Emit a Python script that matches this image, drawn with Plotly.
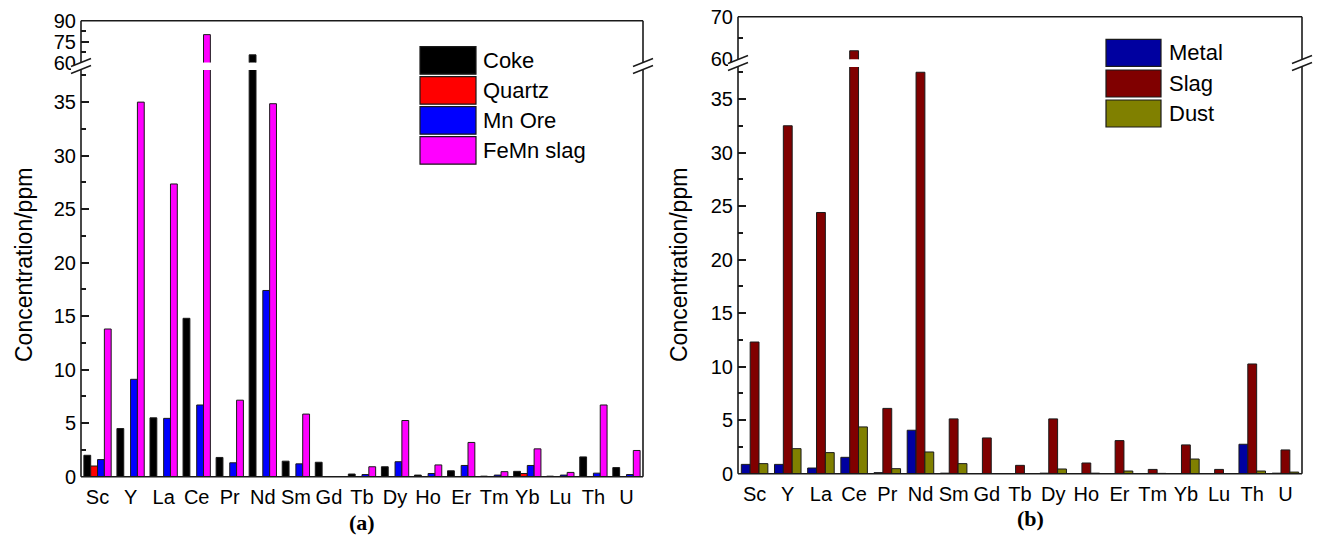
import plotly.graph_objects as go

# ---------------- data (ppm) ----------------
elements = ["Sc", "Y", "La", "Ce", "Pr", "Nd", "Sm", "Gd", "Tb",
            "Dy", "Ho", "Er", "Tm", "Yb", "Lu", "Th", "U"]

# panel (a): raw materials
coke = [2.0, 4.5, 5.5, 14.8, 1.8, 65.5, 1.45, 1.35, 0.25,
        0.93, 0.15, 0.55, 0.05, 0.5, 0.05, 1.85, 0.85]
quartz = [1.0, 0, 0, 0, 0, 0, 0, 0, 0,
          0, 0, 0, 0, 0.3, 0, 0, 0]
mn_ore = [1.6, 9.1, 5.45, 6.7, 1.3, 17.4, 1.2, 0, 0.2,
          1.4, 0.3, 1.05, 0.15, 1.05, 0.15, 0.33, 0.2]
femn_slag = [13.8, 35.0, 27.35, 80.0, 7.15, 34.85, 5.85, 0, 0.93,
             5.25, 1.1, 3.2, 0.47, 2.6, 0.4, 6.7, 2.45]

# panel (b): products
metal = [0.87, 0.87, 0.53, 1.53, 0.1, 4.06, 0.05, 0, 0,
         0.05, 0, 0, 0, 0, 0, 2.75, 0.05]
slag = [12.3, 32.5, 24.4, 62.0, 6.1, 37.5, 5.12, 3.34, 0.78,
        5.12, 1.0, 3.09, 0.4, 2.69, 0.4, 10.25, 2.22]
dust = [0.94, 2.34, 1.97, 4.37, 0.47, 2.03, 0.94, 0, 0,
        0.44, 0.05, 0.25, 0.03, 1.37, 0, 0.25, 0.15]

series_a = [("Coke", coke, "#000000"), ("Quartz", quartz, "#FF0000"),
            ("Mn Ore", mn_ore, "#0000FF"), ("FeMn slag", femn_slag, "#FF00FF")]
series_b = [("Metal", metal, "#0000A0"), ("Slag", slag, "#800000"),
            ("Dust", dust, "#808000")]

# ---------------- geometry helpers (pixels -> paper) ----------------
W, H = 1317, 536


def px(x):
    return x / W


def py(y):
    return 1 - y / H


FONT = "Arial, Liberation Sans, sans-serif"
EDGE = "#1a1a1a"

# panel frames in pixels: left, right, top, bottom
A = dict(l=81, r=643, t=20.7, b=476.7, low_top=70.0, up_bot=62.5, brk=66)
B = dict(l=738, r=1302, t=16.7, b=473.7, low_top=66.9, up_bot=59.3, brk=63)

fig = go.Figure()


def add_panel(series, xa, ylow, yup, group_frac):
    n = len(series)
    w = group_frac / n
    for i, (name, vals, col) in enumerate(series):
        off = -group_frac / 2 + i * w
        for ya in (ylow, yup):
            fig.add_trace(go.Bar(
                x=elements, y=vals, name=name, xaxis=xa, yaxis=ya,
                width=w, offset=off, showlegend=False,
                marker=dict(color=col, line=dict(color=EDGE, width=1)),
            ))


add_panel(series_a, "x", "y", "y2", 0.826)
add_panel(series_b, "x2", "y3", "y4", 0.80)

tickfont = dict(family=FONT, size=20, color="black")


def yaxis(dom, rng, dtick, mdtick):
    return dict(domain=dom, range=rng, dtick=dtick, tick0=0, automargin=False,
                ticks="inside", ticklen=8, tickwidth=1.5, tickcolor=EDGE,
                minor=dict(dtick=mdtick, ticks="inside", ticklen=5, tickwidth=1.5,
                           tickcolor=EDGE),
                showgrid=False, zeroline=False, showline=False,
                tickfont=tickfont, ticklabelstandoff=4)


def xaxis(dom, anchor):
    return dict(domain=dom, anchor=anchor, type="category", range=[-0.5, 16.5],
                automargin=False,
                showgrid=False, zeroline=False, showline=False, ticks="",
                tickfont=tickfont, ticklabelstandoff=6)


fig.update_layout(
    width=W, height=H, autosize=False,
    margin=dict(l=0, r=0, t=0, b=0, pad=0),
    paper_bgcolor="white", plot_bgcolor="white",
    barmode="overlay",
    xaxis=xaxis([px(A["l"]), px(A["r"])], "y"),
    xaxis2=xaxis([px(B["l"]), px(B["r"])], "y3"),
    yaxis=dict(anchor="x", **yaxis([py(A["b"]), py(A["low_top"])], [0, 38], 5, 2.5)),
    yaxis2=dict(anchor="x", **yaxis([py(A["up_bot"]), py(A["t"])], [60, 90], 15, 7.5)),
    yaxis3=dict(anchor="x2", **yaxis([py(B["b"]), py(B["low_top"])], [0, 38], 5, 2.5)),
    yaxis4=dict(anchor="x2", **yaxis([py(B["up_bot"]), py(B["t"])], [60, 70], 10, 5)),
)

shapes = []
annotations = []


def line(x0, y0, x1, y1, w=1.6):
    shapes.append(dict(type="line", xref="paper", yref="paper",
                       x0=px(x0), y0=py(y0), x1=px(x1), y1=py(y1),
                       line=dict(color=EDGE, width=w), layer="above"))


def break_mark(x, yc):
    # white parallelogram hiding the axis, bounded by two slashes
    d, hx, s = 3.5, 10, 4
    pts = [(x - hx, yc - d + s), (x + hx, yc - d - s),
           (x + hx, yc + d - s), (x - hx, yc + d + s)]
    path = "M " + " L ".join(f"{px(a)},{py(b)}" for a, b in pts) + " Z"
    shapes.append(dict(type="path", xref="paper", yref="paper", path=path,
                       fillcolor="white", line=dict(width=0), layer="above"))
    for dd in (-d, d):
        line(x - hx, yc + dd + s, x + hx, yc + dd - s, w=1.4)


for P in (A, B):
    line(P["l"], P["t"], P["r"], P["t"])
    line(P["l"], P["b"], P["r"], P["b"])
    line(P["l"], P["t"], P["l"], P["b"])
    line(P["r"], P["t"], P["r"], P["b"])

for P in (A, B):
    break_mark(P["l"], P["brk"])
    break_mark(P["r"], P["brk"])


def legend(items, x0, x1, tops, h, tx):
    for (name, _, col), top in zip(items, tops):
        shapes.append(dict(type="rect", xref="paper", yref="paper",
                           x0=px(x0), x1=px(x1), y0=py(top + h), y1=py(top),
                           fillcolor=col, line=dict(color=EDGE, width=1.2),
                           layer="above"))
        annotations.append(dict(xref="paper", yref="paper", x=px(tx), y=py(top + h / 2),
                                text=name, showarrow=False, xanchor="left",
                                yanchor="middle",
                                font=dict(family=FONT, size=22, color="black")))


legend(series_a, 420, 476, [46.7, 76.7, 106.7, 136.7], 27.5, 481)
legend(series_b, 1106, 1161, [39.3, 70.0, 100.0], 27.0, 1167)

for x in (24, 679):
    annotations.append(dict(xref="paper", yref="paper", x=px(x), y=py(265),
                            text="Concentration/ppm", textangle=-90, showarrow=False,
                            xanchor="center", yanchor="middle",
                            font=dict(family=FONT, size=23, color="black")))

# panel captions, kept clear of the category labels
for txt, x, y in (("<b>(a)</b>", 362, 522), ("<b>(b)</b>", 1030, 518)):
    annotations.append(dict(xref="paper", yref="paper", x=px(x), y=py(y), text=txt,
                            showarrow=False, xanchor="center", yanchor="middle",
                            font=dict(family="Liberation Serif, Times New Roman, serif",
                                      size=22, color="black")))

fig.update_layout(shapes=shapes, annotations=annotations)

fig.write_html("out.html")
